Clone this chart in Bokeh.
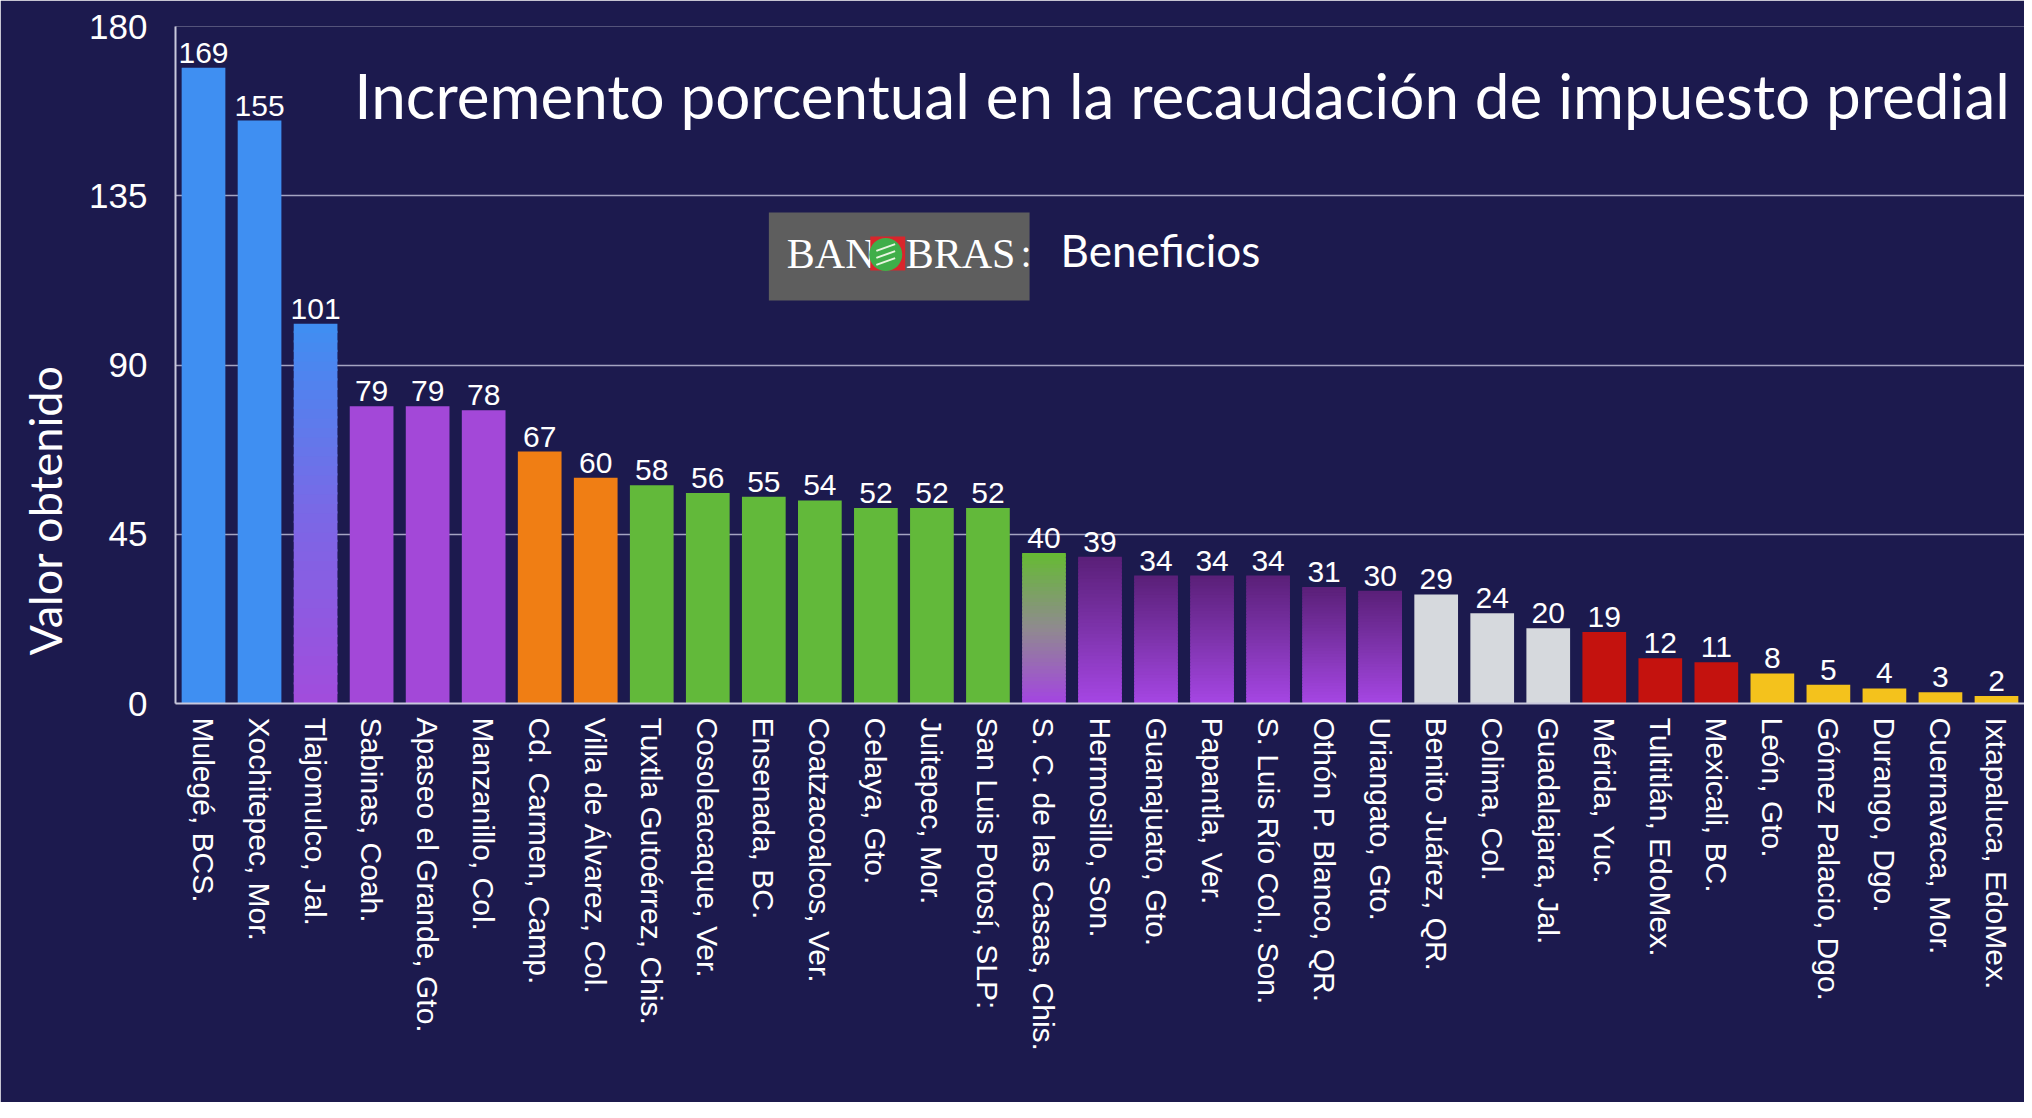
from bokeh.plotting import figure
from bokeh.models import FixedTicker, ColumnDataSource, Range1d
from bokeh.core.properties import value
from bokeh.embed import file_html
from bokeh.resources import INLINE

municipios = [
    "Mulegé, BCS.", "Xochitepec, Mor.", "Tlajomulco, Jal.", "Sabinas, Coah.",
    "Apaseo el Grande, Gto.", "Manzanillo, Col.", "Cd. Carmen, Camp.",
    "Villa de Álvarez, Col.", "Tuxtla Gutoérrez, Chis.", "Cosoleacaque, Ver.",
    "Ensenada, BC.", "Coatzacoalcos, Ver.", "Celaya, Gto.", "Juitepec, Mor.",
    "San Luis Potosí, SLP:", "S. C. de las Casas, Chis.", "Hermosillo, Son.",
    "Guanajuato, Gto.", "Papantla, Ver.", "S. Luis Río Col., Son.",
    "Othón P. Blanco, QR.", "Uriangato, Gto.", "Benito Juárez, QR.",
    "Colima, Col.", "Guadalajara, Jal.", "Mérida, Yuc.", "Tultitlán, EdoMex.",
    "Mexicali, BC.", "León, Gto.", "Gómez Palacio, Dgo.", "Durango, Dgo.",
    "Cuernavaca, Mor.", "Ixtapaluca, EdoMex.",
]
valores = [169, 155, 101, 79, 79, 78, 67, 60, 58, 56, 55, 54, 52, 52, 52, 40,
           39, 34, 34, 34, 31, 30, 29, 24, 20, 19, 12, 11, 8, 5, 4, 3, 2]
# colour group of each bar
grupos = ["azul", "azul", "azul_morado", "morado", "morado", "morado",
          "naranja", "naranja", "verde", "verde", "verde", "verde", "verde",
          "verde", "verde", "verde_morado", "morado_osc", "morado_osc",
          "morado_osc", "morado_osc", "morado_osc", "morado_osc", "gris",
          "gris", "gris", "rojo", "rojo", "rojo", "amarillo", "amarillo",
          "amarillo", "amarillo", "amarillo"]
y_ticks = [0, 45, 90, 135, 180]
titulo = "Incremento porcentual en la recaudación de impuesto predial"
eje_y = "Valor obtenido"

BG = "#1c1a4e"
# (bottom colour, middle colour, top colour)
paleta = {
    "azul": ("#3f8ff2", "#3f8ff2", "#3f8ff2"),
    "azul_morado": ("#a24cdc", "#7a68e6", "#3f8ff2"),
    "morado": ("#a348d8", "#a348d8", "#a348d8"),
    "naranja": ("#f07e14", "#f07e14", "#f07e14"),
    "verde": ("#62b93a", "#62b93a", "#62b93a"),
    "verde_morado": ("#a444e2", "#8f8a8f", "#66bb33"),
    "morado_osc": ("#a646e4", "#7e34ac", "#5a1f78"),
    "gris": ("#d6d9dd", "#d6d9dd", "#d6d9dd"),
    "rojo": ("#c4120e", "#c4120e", "#c4120e"),
    "amarillo": ("#f4c21c", "#f4c21c", "#f4c21c"),
}


def hex2rgb(h):
    h = h.lstrip("#")
    return tuple(int(h[i:i + 2], 16) for i in (0, 2, 4))


def mix(c1, c2, t):
    a, b = hex2rgb(c1), hex2rgb(c2)
    return "#%02x%02x%02x" % tuple(int(round(a[i] + (b[i] - a[i]) * t)) for i in range(3))


def grad(colors, t):
    lo, mid, hi = colors
    if t < 0.5:
        return mix(lo, mid, t * 2)
    return mix(mid, hi, (t - 0.5) * 2)


W, H = 2024, 1102
OFFX, OFFY = 0, 0
MB_L, MB_T, MB_B = 173, 26, 399
FRAME_L, FRAME_R = OFFX + MB_L, OFFX + W
FRAME_T, FRAME_B = OFFY + MB_T, OFFY + H - MB_B

n = len(municipios)
pos = [i + 0.5 for i in range(n)]

p = figure(
    width=W, height=H,
    x_range=Range1d(0, n),
    y_range=Range1d(0, 180),
    output_backend="svg", toolbar_location=None,
    background_fill_color=BG, border_fill_color=BG,
    min_border_left=MB_L, min_border_right=0, min_border_top=MB_T,
    min_border_bottom=MB_B,
    title=eje_y, title_location="left",
)
p.outline_line_color = None

# the y axis caption is drawn as a left-side title so it can sit low, as in the reference
p.title.text_color = "white"
p.title.text_font = "Lato"
p.title.text_font_size = "45px"
p.title.text_font_style = "normal"
p.title.align = "left"
p.title.offset = 48
p.title.standoff = 30

# pixel (page) coordinate ranges for decorations
p.extra_x_ranges = {"px": Range1d(FRAME_L, FRAME_R)}
p.extra_y_ranges = {"py": Range1d(FRAME_B, FRAME_T)}
PX = dict(x_range_name="px", y_range_name="py")

# bars, drawn as vertical slices so gradient groups can be shaded
N = 40
xs, bots, tops, cols = [], [], [], []
for x, v, g in zip(pos, valores, grupos):
    c = paleta[g]
    if c[0] == c[2]:
        xs.append(x); bots.append(0); tops.append(v); cols.append(c[0])
    else:
        for k in range(N):
            xs.append(x)
            bots.append(v * k / N)
            tops.append(min(v, v * (k + 1) / N + 0.6))
            cols.append(grad(c, (k + 0.5) / N))
bar_src = ColumnDataSource(dict(x=xs, bottom=bots, top=tops, color=cols))
p.vbar(x="x", bottom="bottom", top="top", width=0.78, color="color",
       line_color=None, source=bar_src)

# value labels
lab_src = ColumnDataSource(dict(x=pos, y=valores, t=[str(v) for v in valores]))
p.text(x="x", y="y", text="t", source=lab_src, text_align="center",
       text_baseline="bottom", y_offset=-5, text_color="white",
       text_font=value("Liberation Sans"), text_font_size="30px")

# axes
p.xaxis.ticker = FixedTicker(ticks=pos)
p.xaxis.major_label_overrides = {x: m for x, m in zip(pos, municipios)}
p.yaxis.ticker = FixedTicker(ticks=y_ticks)
p.ygrid.ticker = FixedTicker(ticks=y_ticks)
p.xgrid.grid_line_color = None
p.ygrid.grid_line_color = "#a4a4c2"
p.ygrid.grid_line_width = 1.6

for ax in (p.xaxis, p.yaxis):
    ax.axis_line_color = "#c8c8dc"
    ax.axis_line_width = 2
    ax.major_tick_line_color = None
    ax.minor_tick_line_color = None
    ax.major_label_text_color = "white"
    ax.major_label_text_font = "Liberation Sans"

p.yaxis.major_label_text_font_size = "35px"
p.yaxis.major_label_standoff = 22

p.xaxis.major_label_orientation = "vertical"
p.xaxis.major_label_text_font_size = "30px"
p.xaxis.major_label_standoff = 8

# chart title (alphabetic baseline renders ~0.4em low, so compensate)
p.text(x=[352], y=[119 - 25], text=[titulo], text_align="left",
       text_baseline="alphabetic", text_color="white", text_font=value("Lato"),
       text_font_size="62px", **PX)

# logo box
p.quad(left=[767], right=[1028], top=[212], bottom=[300],
       fill_color="#5e5e5e", line_color=None, **PX)
p.text(x=[785], y=[270 - 17], text=["BAN"], text_align="left", text_baseline="alphabetic",
       text_color="white", text_font=value("Liberation Serif"), text_font_size="42px", **PX)
p.text(x=[904], y=[270 - 17], text=["BRAS"], text_align="left", text_baseline="alphabetic",
       text_color="white", text_font=value("Liberation Serif"), text_font_size="42px", **PX)
p.text(x=[1019], y=[270 - 17], text=[":"], text_align="left", text_baseline="alphabetic",
       text_color="white", text_font=value("Liberation Serif"), text_font_size="40px", **PX)
p.rect(x=[886], y=[253], width=35, height=34, fill_color="#d8262c",
       line_color=None, **PX)
p.scatter(x=[884], y=[254], size=33, marker="circle",
          fill_color="#3fae49", line_color=None, **PX)
for off in (-7, 0, 7):
    p.scatter(x=[884], y=[254 + off], size=20, marker="dash",
              line_color="#e8f5e0", line_width=2, angle=0.35, **PX)

p.text(x=[1059], y=[267 - 18], text=["Beneficios"], text_align="left",
       text_baseline="alphabetic", text_color="white", text_font=value("Lato"),
       text_font_size="44px", **PX)

open("out.html", "w").write(file_html(p, INLINE))
